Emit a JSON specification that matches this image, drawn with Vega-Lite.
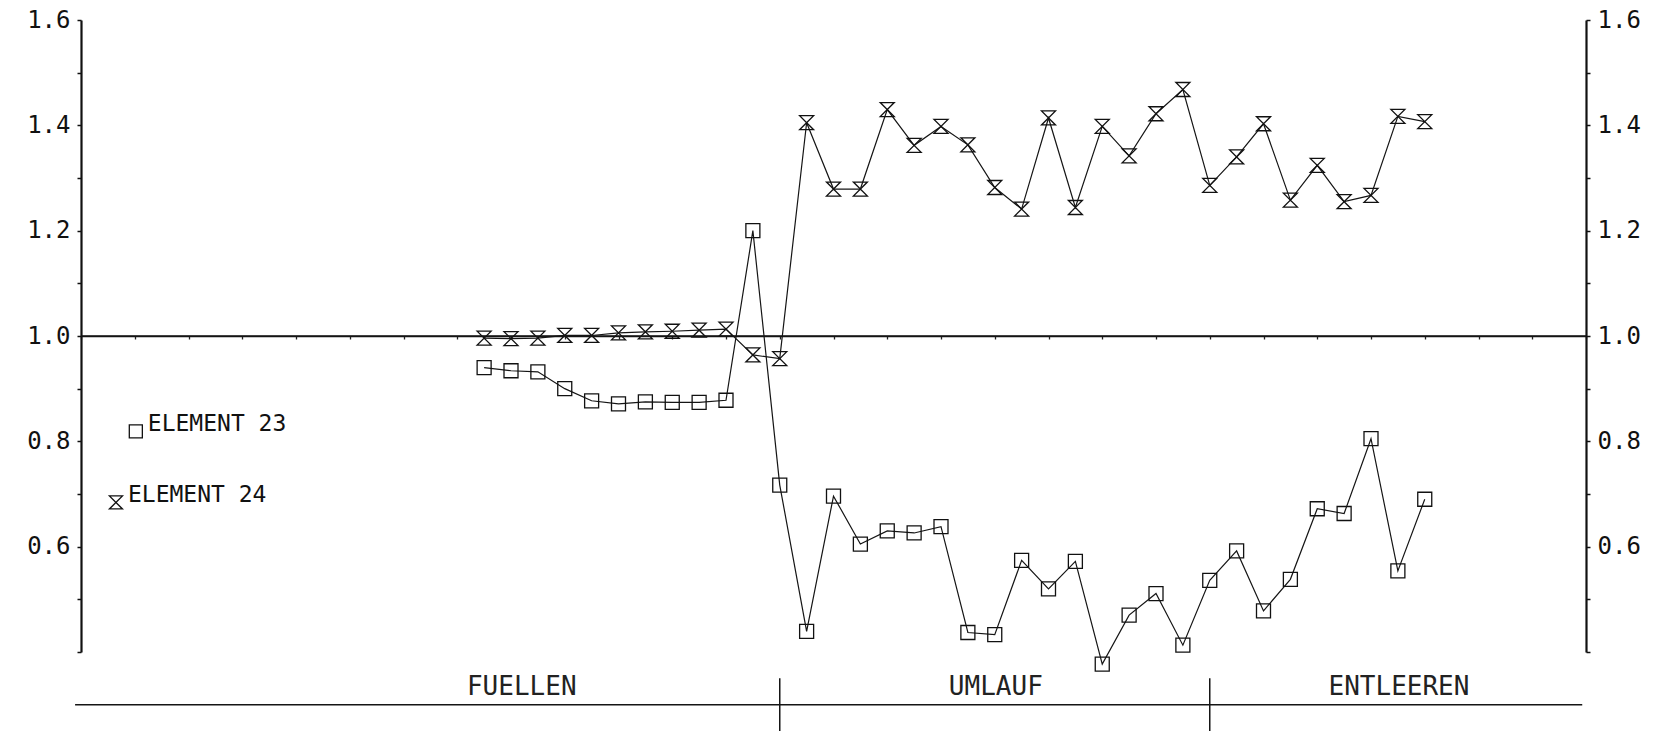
{
  "$schema": "https://vega.github.io/schema/vega-lite/v6.json",
  "width": 1505,
  "height": 632,
  "autosize": {"type": "none"},
  "padding": {"left": 81, "top": 20, "right": 68, "bottom": 79},
  "background": "white",
  "config": {"view": {"stroke": null}, "axis": {"grid": false}},
  "datasets": {
    "main": [
      {"t": 7.5, "v": 0.940, "series": "E23"}, {"t": 8.0, "v": 0.934, "series": "E23"},
      {"t": 8.5, "v": 0.932, "series": "E23"}, {"t": 9.0, "v": 0.900, "series": "E23"},
      {"t": 9.5, "v": 0.877, "series": "E23"}, {"t": 10.0, "v": 0.871, "series": "E23"},
      {"t": 10.5, "v": 0.875, "series": "E23"}, {"t": 11.0, "v": 0.874, "series": "E23"},
      {"t": 11.5, "v": 0.874, "series": "E23"}, {"t": 12.0, "v": 0.878, "series": "E23"},
      {"t": 12.5, "v": 1.200, "series": "E23"}, {"t": 13.0, "v": 0.717, "series": "E23"},
      {"t": 13.5, "v": 0.439, "series": "E23"}, {"t": 14.0, "v": 0.696, "series": "E23"},
      {"t": 14.5, "v": 0.605, "series": "E23"}, {"t": 15.0, "v": 0.630, "series": "E23"},
      {"t": 15.5, "v": 0.626, "series": "E23"}, {"t": 16.0, "v": 0.638, "series": "E23"},
      {"t": 16.5, "v": 0.437, "series": "E23"}, {"t": 17.0, "v": 0.433, "series": "E23"},
      {"t": 17.5, "v": 0.574, "series": "E23"}, {"t": 18.0, "v": 0.520, "series": "E23"},
      {"t": 18.5, "v": 0.572, "series": "E23"}, {"t": 19.0, "v": 0.377, "series": "E23"},
      {"t": 19.5, "v": 0.470, "series": "E23"}, {"t": 20.0, "v": 0.511, "series": "E23"},
      {"t": 20.5, "v": 0.413, "series": "E23"}, {"t": 21.0, "v": 0.536, "series": "E23"},
      {"t": 21.5, "v": 0.592, "series": "E23"}, {"t": 22.0, "v": 0.478, "series": "E23"},
      {"t": 22.5, "v": 0.538, "series": "E23"}, {"t": 23.0, "v": 0.672, "series": "E23"},
      {"t": 23.5, "v": 0.663, "series": "E23"}, {"t": 24.0, "v": 0.805, "series": "E23"},
      {"t": 24.5, "v": 0.554, "series": "E23"}, {"t": 25.0, "v": 0.690, "series": "E23"},
      {"t": 7.5, "v": 0.996, "series": "E24"}, {"t": 8.0, "v": 0.995, "series": "E24"},
      {"t": 8.5, "v": 0.996, "series": "E24"}, {"t": 9.0, "v": 1.001, "series": "E24"},
      {"t": 9.5, "v": 1.001, "series": "E24"}, {"t": 10.0, "v": 1.006, "series": "E24"},
      {"t": 10.5, "v": 1.008, "series": "E24"}, {"t": 11.0, "v": 1.009, "series": "E24"},
      {"t": 11.5, "v": 1.011, "series": "E24"}, {"t": 12.0, "v": 1.013, "series": "E24"},
      {"t": 12.5, "v": 0.964, "series": "E24"}, {"t": 13.0, "v": 0.957, "series": "E24"},
      {"t": 13.5, "v": 1.405, "series": "E24"}, {"t": 14.0, "v": 1.279, "series": "E24"},
      {"t": 14.5, "v": 1.279, "series": "E24"}, {"t": 15.0, "v": 1.430, "series": "E24"},
      {"t": 15.5, "v": 1.362, "series": "E24"}, {"t": 16.0, "v": 1.398, "series": "E24"},
      {"t": 16.5, "v": 1.363, "series": "E24"}, {"t": 17.0, "v": 1.282, "series": "E24"},
      {"t": 17.5, "v": 1.241, "series": "E24"}, {"t": 18.0, "v": 1.414, "series": "E24"},
      {"t": 18.5, "v": 1.244, "series": "E24"}, {"t": 19.0, "v": 1.398, "series": "E24"},
      {"t": 19.5, "v": 1.342, "series": "E24"}, {"t": 20.0, "v": 1.422, "series": "E24"},
      {"t": 20.5, "v": 1.468, "series": "E24"}, {"t": 21.0, "v": 1.286, "series": "E24"},
      {"t": 21.5, "v": 1.340, "series": "E24"}, {"t": 22.0, "v": 1.403, "series": "E24"},
      {"t": 22.5, "v": 1.258, "series": "E24"}, {"t": 23.0, "v": 1.324, "series": "E24"},
      {"t": 23.5, "v": 1.255, "series": "E24"}, {"t": 24.0, "v": 1.267, "series": "E24"},
      {"t": 24.5, "v": 1.417, "series": "E24"}, {"t": 25.0, "v": 1.407, "series": "E24"}
    ],
    "legend": [
      {"t": 1.02, "v": 0.819, "series": "E23", "label": "ELEMENT 23"},
      {"t": 0.65, "v": 0.684, "series": "E24", "label": "ELEMENT 24"}
    ],
    "phases": [
      {"t": 8.2, "v": 0.319, "label": "FUELLEN"},
      {"t": 17.02, "v": 0.319, "label": "UMLAUF"},
      {"t": 24.52, "v": 0.319, "label": "ENTLEEREN"}
    ],
    "rules": [
      {"t": 0, "t2": 28, "v": 1.0, "v2": 1.0},
      {"t": -0.11, "t2": 27.93, "v": 0.30, "v2": 0.30},
      {"t": 13, "t2": 13, "v": 0.35, "v2": 0.25},
      {"t": 21, "t2": 21, "v": 0.35, "v2": 0.25}
    ]
  },
  "layer": [
    {
      "data": {"name": "main"},
      "mark": {"type": "line", "color": "#151515", "strokeWidth": 1.2},
      "encoding": {
        "x": {"field": "t", "type": "quantitative", "title": null,
              "scale": {"domain": [0, 28], "nice": false, "zero": false},
              "axis": {"orient": "bottom", "offset": -316, "values": [0,1,2,3,4,5,6,7,8,9,10,11,12,13,14,15,16,17,18,19,20,21,22,23,24,25,26,27,28],
                       "labels": false, "title": null, "tickSize": 3, "tickWidth": 1.3, "tickColor": "#222", "domainColor": "#151515", "domainWidth": 1.6, "grid": false}},
        "y": {"field": "v", "type": "quantitative",
              "scale": {"domain": [0.4, 1.6], "nice": false, "zero": false},
              "axis": {"orient": "left", "title": null, "values": [0.4,0.5,0.6,0.7,0.8,0.9,1.0,1.1,1.2,1.3,1.4,1.5,1.6],
                       "labelExpr": "(round(datum.value*10) % 2 == 0 && datum.value > 0.45) ? format(datum.value, '.1f') : ''",
                       "labelFont": "DejaVu Sans Mono", "labelFontSize": 24, "labelColor": "#111", "labelPadding": 7,
                       "tickSize": 4, "tickWidth": 1.5, "tickColor": "#111", "domainColor": "#111", "domainWidth": 2.2, "grid": false}},
        "detail": {"field": "series", "type": "nominal"}
      }
    },
    {
      "data": {"name": "main"},
      "mark": {"type": "point", "filled": false, "stroke": "#111", "strokeWidth": 1.3, "size": 196, "opacity": 1},
      "encoding": {
        "x": {"field": "t", "type": "quantitative", "title": null},
        "y": {"field": "v", "type": "quantitative",
              "axis": {"orient": "right", "title": null, "values": [0.4,0.5,0.6,0.7,0.8,0.9,1.0,1.1,1.2,1.3,1.4,1.5,1.6],
                       "labelExpr": "(round(datum.value*10) % 2 == 0 && datum.value > 0.45) ? format(datum.value, '.1f') : ''",
                       "labelFont": "DejaVu Sans Mono", "labelFontSize": 24, "labelColor": "#111", "labelPadding": 7,
                       "tickSize": 4, "tickWidth": 1.5, "tickColor": "#111", "domainColor": "#111", "domainWidth": 2.2, "grid": false}},
        "shape": {"field": "series", "type": "nominal",
                  "scale": {"domain": ["E23", "E24"], "range": ["square", "M-1,-1H1L-1,1H1Z"]}, "legend": null}
      }
    },
    {
      "data": {"name": "legend"},
      "mark": {"type": "point", "filled": false, "stroke": "#111", "strokeWidth": 1.3, "size": 170, "opacity": 1},
      "encoding": {
        "x": {"field": "t", "type": "quantitative", "title": null},
        "y": {"field": "v", "type": "quantitative", "axis": null},
        "shape": {"field": "series", "type": "nominal", "legend": null}
      }
    },
    {
      "data": {"name": "legend"},
      "mark": {"type": "text", "align": "left", "baseline": "alphabetic", "dx": 12, "font": "DejaVu Sans Mono", "fontSize": 23, "color": "#111"},
      "encoding": {
        "x": {"field": "t", "type": "quantitative", "title": null},
        "y": {"field": "v", "type": "quantitative", "axis": null},
        "text": {"field": "label", "type": "nominal"}
      }
    },
    {
      "data": {"name": "rules"},
      "mark": {"type": "rule", "color": "#151515", "strokeWidth": 1.5},
      "encoding": {
        "x": {"field": "t", "type": "quantitative", "title": null},
        "x2": {"field": "t2"},
        "y": {"field": "v", "type": "quantitative", "axis": null},
        "y2": {"field": "v2"}
      }
    },
    {
      "data": {"name": "phases"},
      "mark": {"type": "text", "align": "center", "baseline": "alphabetic", "font": "DejaVu Sans Mono", "fontSize": 26, "color": "#222"},
      "encoding": {
        "x": {"field": "t", "type": "quantitative", "title": null},
        "y": {"field": "v", "type": "quantitative", "axis": null},
        "text": {"field": "label", "type": "nominal"}
      }
    }
  ],
  "resolve": {"axis": {"y": "independent"}}
}
